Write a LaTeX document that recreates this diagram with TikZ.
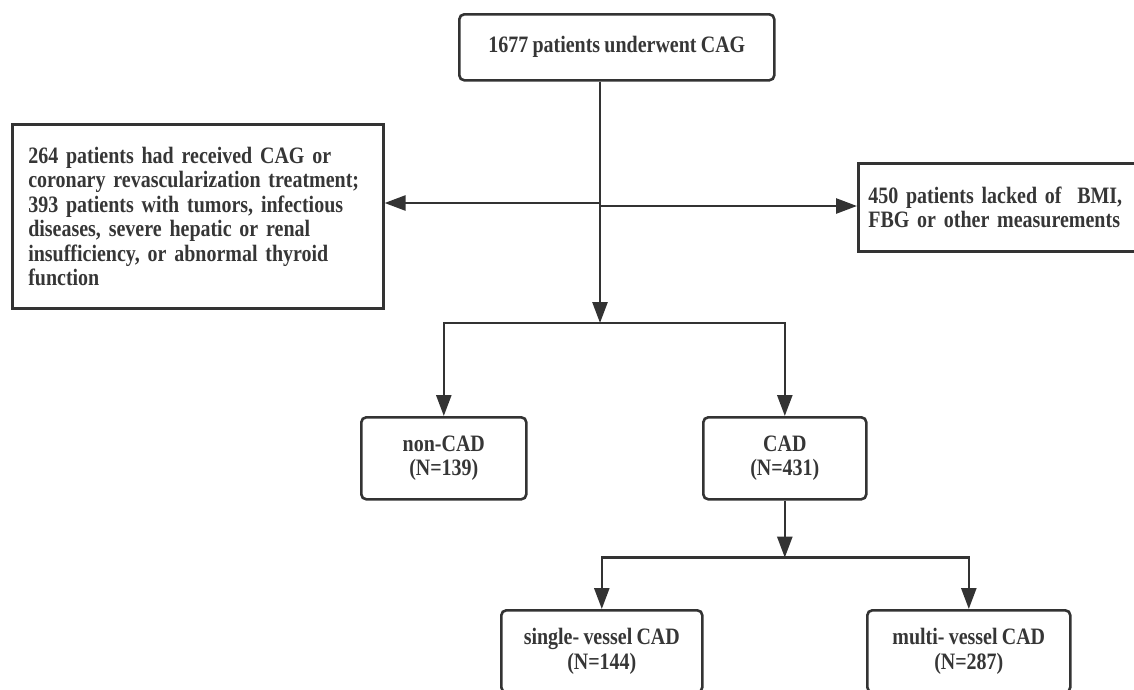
\documentclass[tikz,border=0pt]{standalone}
\usepackage{fontspec}
\setmainfont{Liberation Serif}[FakeStretch=0.85,WordSpace=0.85]
\usetikzlibrary{arrows.meta}
\definecolor{ink}{HTML}{333333}
\definecolor{txt}{HTML}{363636}
\begin{document}
\begin{tikzpicture}[x=1pt,y=-1pt,
  box/.style={draw=ink, line width=2.6pt, text=txt, font=\bfseries\fontsize{23.5}{24.5}\selectfont, inner sep=0pt, anchor=north west},
  rbox/.style={box, rounded corners=5pt, align=center},
  sbox/.style={box, align=left},
  conn/.style={draw=ink, line width=2.6pt},
  arr/.style={conn, -{Triangle[length=21pt,width=15pt]}}
]
\useasboundingbox (0,0) rectangle (1134,689);
\node[rbox, minimum width=315pt, minimum height=66pt] (top) at (458,13) {1677 patients underwent CAG};
\node[sbox, minimum width=371pt, minimum height=184pt, text width=339pt] (excl) at (11,123)
  {\hyphenpenalty=10000 264 patients had received CAG or\\coronary revascularization treatment;\\393 patients with tumors, infectious\\diseases, severe hepatic or renal\\insufficiency, or abnormal thyroid\\function};
\node[sbox, minimum width=282pt, minimum height=88pt, text width=262pt] (lack) at (857,162)
  {\hyphenpenalty=10000 450 patients lacked of \ BMI,\\FBG or other measurements};
\node[rbox, minimum width=165pt, minimum height=82pt] (noncad) at (360,416) {non-CAD\\(N=139)};
\node[rbox, minimum width=163pt, minimum height=82pt] (cad) at (702,416) {CAD\\(N=431)};
\node[rbox, minimum width=201pt, minimum height=82pt] (single) at (500,609) {single- vessel CAD\\(N=144)};
\node[rbox, minimum width=203pt, minimum height=82pt] (multi) at (866,609) {multi- vessel CAD\\(N=287)};

\coordinate (j1) at (600,323);
\coordinate (jl) at (600,203);
\coordinate (jr) at (600,206);
\draw[arr] (top.south -| j1) -- (j1);
\draw[arr] (jl) -- (excl.east |- jl);
\draw[arr] (jr) -- (lack.west |- jr);
\draw[arr] (j1) -| (noncad.north);
\draw[arr] (j1) -| (cad.north);
\path (cad.south) ++(0,57) coordinate (j2);
\draw[arr] (cad.south) -- (j2);
\draw[arr] (j2) -| (single.north);
\draw[arr] (j2) -| (multi.north);
\end{tikzpicture}
\end{document}
